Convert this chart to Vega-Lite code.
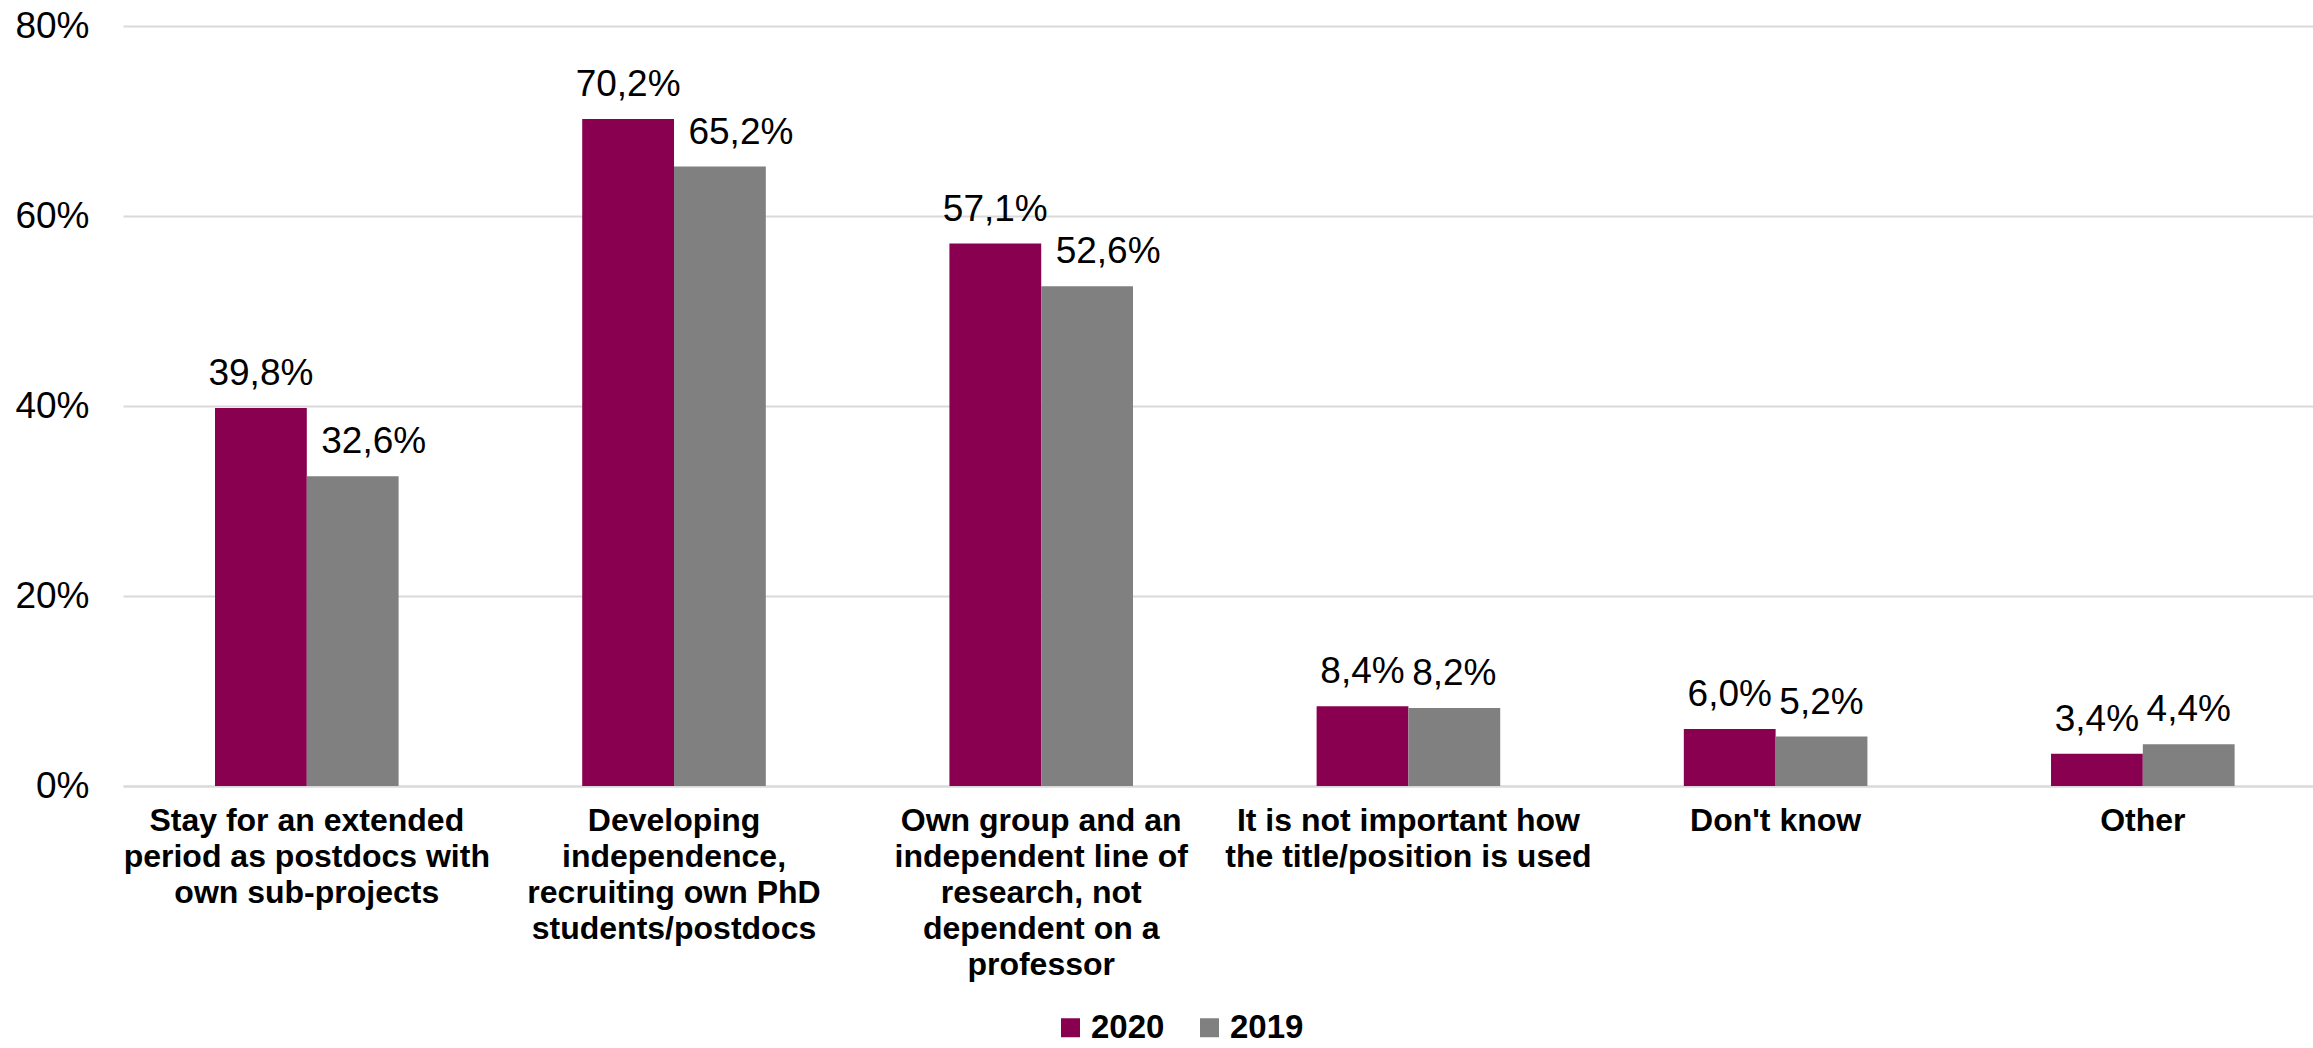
{
  "$schema": "https://vega.github.io/schema/vega-lite/v6.json",
  "width": 2190,
  "height": 760,
  "autosize": {"type": "none"},
  "padding": {"left": 123, "top": 26, "right": 0, "bottom": 262},
  "background": "white",
  "data": {
    "values": [
      {"category": "Stay for an extended period as postdocs with own sub-projects", "year": "2020", "value": 0.398},
      {"category": "Stay for an extended period as postdocs with own sub-projects", "year": "2019", "value": 0.326},
      {"category": "Developing independence, recruiting own PhD students/postdocs", "year": "2020", "value": 0.702},
      {"category": "Developing independence, recruiting own PhD students/postdocs", "year": "2019", "value": 0.652},
      {"category": "Own group and an independent line of research, not dependent on a professor", "year": "2020", "value": 0.571},
      {"category": "Own group and an independent line of research, not dependent on a professor", "year": "2019", "value": 0.526},
      {"category": "It is not important how the title/position is used", "year": "2020", "value": 0.084},
      {"category": "It is not important how the title/position is used", "year": "2019", "value": 0.082},
      {"category": "Don't know", "year": "2020", "value": 0.060},
      {"category": "Don't know", "year": "2019", "value": 0.052},
      {"category": "Other", "year": "2020", "value": 0.034},
      {"category": "Other", "year": "2019", "value": 0.044}
    ]
  },
  "transform": [
    {"calculate": "replace(format(datum.value, '.1%'), '.', ',')", "as": "label"}
  ],
  "encoding": {
    "x": {
      "field": "category",
      "type": "nominal",
      "sort": null,
      "scale": {"paddingInner": 0.5, "paddingOuter": 0.232, "align": 0.54},
      "axis": {
        "title": null,
        "labelAngle": 0,
        "labelExpr": "datum.label == 'Stay for an extended period as postdocs with own sub-projects' ? ['Stay for an extended', 'period as postdocs with', 'own sub-projects'] : datum.label == 'Developing independence, recruiting own PhD students/postdocs' ? ['Developing', 'independence,', 'recruiting own PhD', 'students/postdocs'] : datum.label == 'Own group and an independent line of research, not dependent on a professor' ? ['Own group and an', 'independent line of', 'research, not', 'dependent on a', 'professor'] : datum.label == 'It is not important how the title/position is used' ? ['It is not important how', 'the title/position is used'] : datum.label",
        "labelFont": "Liberation Sans",
        "labelFontSize": 32,
        "labelFontWeight": "bold",
        "labelColor": "black",
        "labelLineHeight": 36,
        "labelBaseline": "top",
        "labelPadding": 19,
        "labelLimit": 0,
        "ticks": false,
        "domainColor": "#d9d9d9",
        "domainWidth": 2
      }
    },
    "xOffset": {"field": "year", "type": "nominal", "sort": ["2020", "2019"], "scale": {"paddingInner": 0, "paddingOuter": 0}},
    "y": {
      "field": "value",
      "type": "quantitative",
      "scale": {"domain": [0, 0.8]},
      "axis": {
        "title": null,
        "values": [0, 0.2, 0.4, 0.6, 0.8],
        "format": ".0%",
        "labelFont": "Liberation Sans",
        "labelFontSize": 37,
        "labelColor": "black",
        "labelPadding": 34,
        "ticks": false,
        "domain": false,
        "gridColor": "#d9d9d9",
        "gridWidth": 2
      }
    }
  },
  "layer": [
    {
      "mark": {"type": "bar"},
      "encoding": {
        "color": {
          "field": "year",
          "type": "nominal",
          "sort": ["2020", "2019"],
          "scale": {"domain": ["2020", "2019"], "range": ["#8A0050", "#808080"]},
          "legend": {
            "orient": "none",
            "legendX": 931,
            "legendY": 985,
            "direction": "horizontal",
            "title": null,
            "padding": 0,
            "symbolType": "square",
            "symbolSize": 361,
            "symbolStrokeWidth": 0,
            "labelFont": "Liberation Sans",
            "labelFontSize": 33,
            "labelFontWeight": "bold",
            "labelColor": "black",
            "labelOffset": 4,
            "columnPadding": 28
          }
        }
      }
    },
    {
      "transform": [{"filter": "datum.year == '2020' || datum.value < 0.3"}],
      "mark": {"type": "text", "baseline": "alphabetic", "dy": -23, "fontSize": 37, "font": "Liberation Sans", "color": "black"},
      "encoding": {"text": {"field": "label"}}
    },
    {
      "transform": [{"filter": "datum.year == '2019' && datum.value >= 0.3"}],
      "mark": {"type": "text", "baseline": "alphabetic", "dy": -23, "dx": 21, "fontSize": 37, "font": "Liberation Sans", "color": "black"},
      "encoding": {"text": {"field": "label"}}
    }
  ],
  "config": {"view": {"stroke": null}}
}
